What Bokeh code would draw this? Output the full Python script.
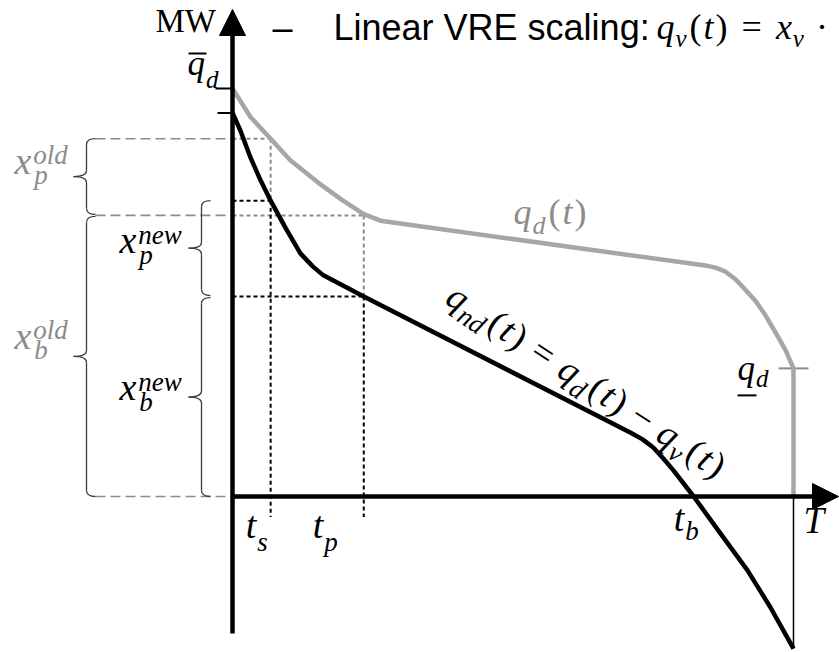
import math
from bokeh.plotting import figure
from bokeh.models import Range1d, ColumnDataSource, Arrow, NormalHead
from bokeh.core.properties import value
from bokeh.embed import file_html
from bokeh.resources import INLINE

# ---------------- data (t in % of the period, power in % of peak demand) ----------------
T_END = 100.0          # T
Q_PEAK = 100.0         # upper bound of demand
Q_LOW = 31.4           # lower bound of demand

# demand duration curve q_d(t)
t_demand = [0.0, 3.2, 6.8, 10.3, 15.2, 19.3, 23.4, 26.4, 29.9, 84.3, 86.1, 87.9, 89.7, 91.4,
            93.2, 95.0, 96.8, 98.6, 100.0, 100.0]
q_demand = [100.0, 93.0, 87.7, 82.4, 77.0, 72.9, 69.2, 67.6, 66.9, 56.6, 56.1, 55.1, 53.2, 50.7,
            48.0, 44.4, 40.2, 35.8, 31.4, 0.0]

# net demand duration curve q_nd(t) = q_d(t) - q_v(t)
t_net = [0.0, 1.4, 3.2, 5.0, 6.8, 9.5, 12.1, 14.3, 16.2, 23.4, 70.9, 73.1, 75.0, 76.8, 78.6,
         82.2, 87.0, 91.8, 95.9, 100.0]
q_net = [94.0, 89.7, 83.1, 77.5, 72.5, 65.7, 59.6, 56.4, 54.2, 49.0, 15.7, 14.0, 12.0, 9.3, 6.4,
         0.0, -9.1, -18.1, -27.2, -37.3]

# characteristic times
t_s, t_p, t_b = 6.8, 23.4, 82.2

# capacities before and after VRE scaling
x_b_old, x_p_old = 68.9, 18.8
x_b_new, x_p_new = 49.0, 23.5

# ---------------- canvas ----------------
W, H = 839, 652
OX, OY = 232, 496          # pixel position of the origin
PX_T, PX_Q = 5.61, 4.08    # pixels per unit on each axis

p = figure(width=W, height=H,
           x_range=Range1d(-OX / PX_T, (W - OX) / PX_T),
           y_range=Range1d(-(H - OY) / PX_Q, OY / PX_Q),
           x_axis_type=None, y_axis_type=None,
           toolbar_location=None, output_backend="svg", min_border=0)
p.outline_line_color = None
p.background_fill_color = "white"
p.border_fill_color = "white"


def dt(px):
    return px / PX_T


def dq(px):
    return px / PX_Q


def to_px(t, q):
    return OX + t * PX_T, OY - q * PX_Q


def to_data(sx, sy):
    return (sx - OX) / PX_T, (OY - sy) / PX_Q


GREY_CURVE = "#a6a6a6"
GREY_TEXT = "#8c8c8c"
GREY_DASH = "#8c8c8c"
BRACE = "#3c3c3c"

q_top_old = x_b_old + x_p_old
q_top_new = x_b_new + x_p_new

# ---------------- helper lines ----------------
t_brace_old = dt(86 - OX)
t_brace_new = dt(201 - OX)
hook = dt(9)

# long grey dashes from the left braces to the vertical axis
p.segment(x0=[t_brace_old + hook] * 3, x1=[0, 0, 0],
          y0=[q_top_old, x_b_old, 0], y1=[q_top_old, x_b_old, 0],
          line_color=GREY_DASH, line_width=1.6, line_dash="10 5")

# grey dotted guides of the old level
p.segment(x0=[0, 0, t_s, t_p], x1=[t_s, t_p, t_s, t_p],
          y0=[q_top_old, x_b_old, q_top_old, x_b_old],
          y1=[q_top_old, x_b_old, q_top_new, x_b_new],
          line_color=GREY_DASH, line_width=2, line_dash="4 3")

# black dotted guides of the new level
p.segment(x0=[0, 0, t_s, t_p], x1=[t_s, t_p, t_s, t_p],
          y0=[q_top_new, x_b_new, q_top_new, x_b_new],
          y1=[q_top_new, x_b_new, -5, -5],
          line_color="black", line_width=2, line_dash="4 3")

# thin drop line at T
p.segment(x0=[T_END], x1=[T_END], y0=[0], y1=[q_net[-1]], line_color="black", line_width=1.5)

# short ticks on the vertical axis and at the demand minimum
p.segment(x0=[-dt(17), -dt(15)], x1=[0, 0], y0=[Q_PEAK, q_net[0]], y1=[Q_PEAK, q_net[0]],
          line_color="black", line_width=2)
p.segment(x0=[T_END - dt(15)], x1=[T_END + dt(15)], y0=[Q_LOW], y1=[Q_LOW],
          line_color=GREY_DASH, line_width=2)


# ---------------- curly braces ----------------
def brace(t0, q_hi, q_lo, tip_px=13, hook_px=9, r_px=6):
    h, tip, r = dt(hook_px), dt(tip_px), dq(r_px)
    mid = (q_hi + q_lo) / 2
    quads = [
        (t0 + h, q_hi, t0, q_hi - r, t0, q_hi),
        (t0, mid + r, t0 - tip, mid, t0, mid),
        (t0 - tip, mid, t0, mid - r, t0, mid),
        (t0, q_lo + r, t0 + h, q_lo, t0, q_lo),
    ]
    segs = [(t0, q_hi - r, t0, mid + r), (t0, mid - r, t0, q_lo + r)]
    return quads, segs


quads, segs = [], []
for args in [(t_brace_old, q_top_old, x_b_old + dq(1)),
             (t_brace_old, x_b_old - dq(1), 0),
             (t_brace_new, q_top_new, x_b_new + dq(1)),
             (t_brace_new, x_b_new - dq(1), 0)]:
    qd, sg = brace(*args)
    quads += qd
    segs += sg

p.quadratic(x0=[a[0] for a in quads], y0=[a[1] for a in quads],
            x1=[a[2] for a in quads], y1=[a[3] for a in quads],
            cx=[a[4] for a in quads], cy=[a[5] for a in quads],
            line_color=BRACE, line_width=1.3)
p.segment(x0=[s[0] for s in segs], y0=[s[1] for s in segs],
          x1=[s[2] for s in segs], y1=[s[3] for s in segs],
          line_color=BRACE, line_width=1.3)

# ---------------- curves ----------------
p.line(t_demand, q_demand, line_color=GREY_CURVE, line_width=4.5, line_join="round")
p.line(t_net, q_net, line_color="black", line_width=4.5, line_join="round")

# ---------------- axes ----------------
y_top = dq(OY - 9)
x_right = dt(838 - OX)
p.add_layout(Arrow(end=NormalHead(size=26, fill_color="black", line_color="black", line_width=1),
                   x_start=0, y_start=-dq(633 - OY), x_end=0, y_end=y_top,
                   line_color="black", line_width=4.5))
p.add_layout(Arrow(end=NormalHead(size=26, fill_color="black", line_color="black", line_width=1),
                   x_start=0, y_start=0, x_end=x_right, y_end=0,
                   line_color="black", line_width=4.5))

# ---------------- math-style labels ----------------
MATH_FONT = "Liberation Serif"
W_IT = {"q": 0.50, "d": 0.50, "n": 0.50, "t": 0.278, "v": 0.444, "x": 0.444, "p": 0.50,
        "b": 0.50, "s": 0.389, "o": 0.50, "l": 0.278, "e": 0.444, "w": 0.667, "T": 0.556}
W_UP = {"(": 0.333, ")": 0.333, "=": 0.564, "\u2212": 0.564, "\u00b7": 0.25,
        "M": 0.889, "W": 0.944}
BASE_FIX = 0.40   # lift applied so that the drawn baseline sits on the requested one

M, S = 35, 25
rows = []


def I(text, size=M, shift=0, gap=0, stack=False):
    return (text, size, shift, True, gap, stack)


def U(text, size=M, shift=0, gap=0, stack=False):
    return (text, size, shift, False, gap, stack)


def place(pieces, sx0, sy0, color, angle_deg=0.0, font=MATH_FONT):
    th = math.radians(angle_deg)
    ux, uy = math.cos(th), math.sin(th)
    nx, ny = -math.sin(th), math.cos(th)
    adv = last = 0.0
    for text, size, shift, italic, gap, stack in pieces:
        if stack:
            adv = last
        adv += gap
        off = shift - BASE_FIX * size
        sx = sx0 + adv * ux + off * nx
        sy = sy0 + adv * uy + off * ny
        x, y = to_data(sx, sy)
        rows.append(dict(x=x, y=y, text=text, size=f"{size}px", color=color, angle=-th,
                         font=font, style="italic" if italic else "normal"))
        last = adv
        table = W_IT if italic else W_UP
        adv += sum(table.get(c, 0.5) for c in text) * size + 1
    return adv


# upper bound of demand, with its bar
sx, sy = to_px(0, Q_PEAK)
lx, ly = sx - 45, sy - 11
place([I("q"), I("d", S, 12)], lx, ly, "black")
bx0, by0 = to_data(lx + 1, ly - 24)
bx1, _ = to_data(lx + 19, ly - 24)
p.segment(x0=[bx0], x1=[bx1], y0=[by0], y1=[by0], line_color="black", line_width=2)

# lower bound of demand, with its underline
sx, sy = to_px(T_END, Q_LOW)
lx, ly = sx - 56, sy + 14
place([I("q"), I("d", S, 6)], lx, ly, "black")
ux0, uy0 = to_data(lx, ly + 13)
ux1, _ = to_data(lx + 19, ly + 13)
p.segment(x0=[ux0], x1=[ux1], y0=[uy0], y1=[uy0], line_color="black", line_width=2)

# capacity labels beside the braces
XM, XS = 38, 27
for base_q_hi, base_q_lo, left, sup, sub, col, dy in [
        (q_top_old, x_b_old, 14, "old", "p", GREY_TEXT, -1),
        (x_b_old, 0, 14, "old", "b", GREY_TEXT, -5),
        (q_top_new, x_b_new, 119, "new", "p", "black", 7),
        (x_b_new, 0, 119, "new", "b", "black", 6)]:
    _, mid_px = to_px(0, (base_q_hi + base_q_lo) / 2)
    place([I("x", XM), I(sup, XS, -10, gap=1), I(sub, XS, 10, gap=1, stack=True)],
          left, mid_px + dy, col)

# q_d(t)
place([I("q", 36), I("d", 26, 9), U("(", 36, gap=2), I("t", 36, gap=1), U(")", 36, gap=1)],
      513, 226, GREY_TEXT)

# time labels on the horizontal axis
for tv, sub, dx, dy, sh in [(t_s, "s", -25, 44, 12), (t_p, "p", -51, 44, 12), (t_b, "b", -20, 37, 8)]:
    sx, sy = to_px(tv, 0)
    place([I("t", 38), I(sub, 27, sh)], sx + dx, sy + dy, "black")
sx, sy = to_px(T_END, 0)
place([I("T", 37)], sx + 10, sy + 39, "black")

# net demand label along the curve
R, RS = 37, 27
place([I("q", R), I("nd", RS, 8), U("(", R, gap=2), I("t", R, gap=1), U(")", R, gap=1),
       U("=", R, gap=11), I("q", R, gap=11), I("d", RS, 8), U("(", R, gap=2), I("t", R, gap=1),
       U(")", R, gap=1),
       U("\u2212", R, gap=10), I("q", R, gap=10), I("v", RS, 8), U("(", R, gap=2), I("t", R, gap=1),
       U(")", R, gap=1)],
      442, 304, "black", angle_deg=33)

# heading formula
M2, S2 = 36, 25
place([I("q", M2), I("v", S2, 7), U("(", M2, gap=2), I("t", M2, gap=1), U(")", M2, gap=1),
       U("=", M2, gap=13), I("x", M2, gap=13), I("v", S2, 7), U("\u00b7", M2, gap=11)],
      656, 41, "black")

# plain-text heading and axis unit
place([U("\u2013", 36)], 272, 41, "black", font="Liberation Sans")
place([U("Linear VRE scaling:", 36)], 333, 41, "black", font="Liberation Sans")
place([U("MW", 33)], 155, 34, "black", font="Liberation Serif")

groups = {}
for r in rows:
    groups.setdefault((r["font"], r["style"]), []).append(r)
for (font, style), rs in groups.items():
    src = ColumnDataSource({k: [r[k] for r in rs] for k in ("x", "y", "text", "size", "color", "angle")})
    p.text(x="x", y="y", text="text", angle="angle", source=src,
           text_font_size="size", text_color="color",
           text_font=value(font), text_font_style=value(style),
           text_align="left", text_baseline="alphabetic")

open("out.html", "w").write(file_html(p, INLINE))
